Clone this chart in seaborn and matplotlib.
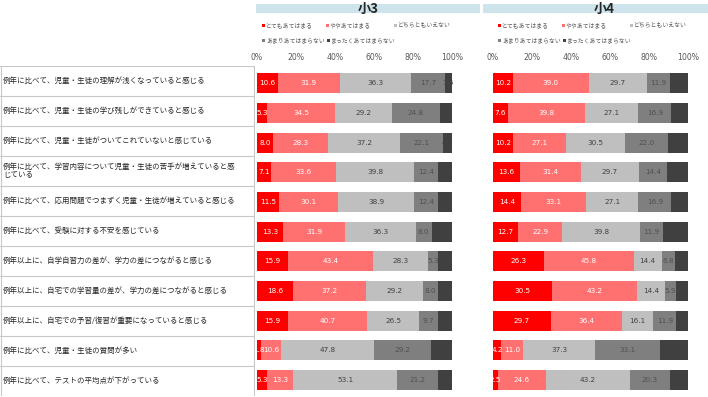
import pandas as pd
import matplotlib.pyplot as plt
import seaborn as sns
from matplotlib.patches import Rectangle

items = [
    "例年に比べて、児童・生徒の理解が浅くなっていると感じる",
    "例年に比べて、児童・生徒の学び残しができていると感じる",
    "例年に比べて、児童・生徒がついてこれていないと感じている",
    "例年に比べて、学習内容について児童・生徒の苦手が増えていると感\nじている",
    "例年に比べて、応用問題でつまずく児童・生徒が増えていると感じる",
    "例年に比べて、受験に対する不安を感じている",
    "例年以上に、自学自習力の差が、学力の差につながると感じる",
    "例年以上に、自宅での学習量の差が、学力の差につながると感じる",
    "例年以上に、自宅での予習/復習が重要になっていると感じる",
    "例年に比べて、児童・生徒の質問が多い",
    "例年に比べて、テストの平均点が下がっている",
]
answers = ["とてもあてはまる", "ややあてはまる", "どちらともいえない",
           "あまりあてはまらない", "まったくあてはまらない"]
colors = ["#ff0000", "#ff7171", "#bfbfbf", "#7f7f7f", "#404040"]
text_colors = ["white", "white", "#404040", "#505050", "#404040"]

# 小3
g3_very = [10.6, 5.3, 8.0, 7.1, 11.5, 13.3, 15.9, 18.6, 15.9, 1.8, 5.3]
g3_some = [31.9, 34.5, 28.3, 33.6, 30.1, 31.9, 43.4, 37.2, 40.7, 10.6, 13.3]
g3_neither = [36.3, 29.2, 37.2, 39.8, 38.9, 36.3, 28.3, 29.2, 26.5, 47.8, 53.1]
g3_little = [17.7, 24.8, 22.1, 12.4, 12.4, 8.0, 5.3, 8.0, 9.7, 29.2, 21.2]
g3_none = [3.5, 6.2, 4.4, 7.1, 7.1, 10.5, 7.1, 7.0, 7.2, 10.6, 7.1]

# 小4
g4_very = [10.2, 7.6, 10.2, 13.6, 14.4, 12.7, 26.3, 30.5, 29.7, 4.2, 2.5]
g4_some = [39.0, 39.8, 27.1, 31.4, 33.1, 22.9, 45.8, 43.2, 36.4, 11.0, 24.6]
g4_neither = [29.7, 27.1, 30.5, 29.7, 27.1, 39.8, 14.4, 14.4, 16.1, 37.3, 43.2]
g4_little = [11.9, 16.9, 22.0, 14.4, 16.9, 11.9, 6.8, 5.9, 11.9, 33.1, 20.3]
g4_none = [9.2, 8.6, 10.2, 10.9, 8.5, 12.7, 6.7, 6.0, 5.9, 14.4, 9.4]

sns.set_theme(style="white")
plt.rcParams['font.family'] = ['Noto Sans CJK JP', 'DejaVu Sans']

W, H = 708, 397
fig = plt.figure(figsize=(W / 100, H / 100), dpi=100)


def px_rect(x0, y0, x1, y1):
    return [x0 / W, 1 - y1 / H, (x1 - x0) / W, (y1 - y0) / H]


# label table on the left
tab = fig.add_axes(px_rect(0, 66, 255, 396))
tab.set_xlim(0, 1)
tab.set_ylim(len(items), 0)
tab.axis('off')
for i in range(len(items) + 1):
    tab.axhline(i, color="#c8c8c8", lw=0.8)
tab.axvline(0.002, color="#c8c8c8", lw=0.8)
tab.axvline(0.998, color="#c8c8c8", lw=0.8)
for i, lab in enumerate(items):
    tab.text(0.012, i + 0.5, lab, va='center', ha='left', fontsize=5.4,
             color="#262626", linespacing=1.05)


def draw_panel(x0, title, series, band):
    ax = fig.add_axes(px_rect(x0, 68.5, x0 + 195, 394.8))
    df = pd.DataFrame(dict(zip(answers, series)))
    df["item"] = items
    cum = df[answers].cumsum(axis=1)
    # stacked bars: draw cumulative totals from the back
    for k in range(len(answers) - 1, -1, -1):
        sns.barplot(x=cum[answers[k]], y=df["item"], color=colors[k],
                    orient='h', width=0.67, order=items, ax=ax,
                    saturation=1, edgecolor='none', linewidth=0)
    for i in range(len(items)):
        for k in range(len(answers)):
            v = df[answers[k]][i]
            ax.text(cum[answers[k]][i] - v / 2, i, f"{v:.1f}", ha='center',
                    va='center', fontsize=5.2, color=text_colors[k],
                    family='DejaVu Sans')
    ax.set_xlim(0, 100)
    ax.set_xticks(range(0, 101, 20))
    ax.set_xticklabels([f"{t}%" for t in range(0, 101, 20)])
    ax.xaxis.tick_top()
    ax.tick_params(axis='x', length=0, pad=5, labelsize=5.6,
                   labelcolor="#595959")
    for lbl in ax.get_xticklabels():
        lbl.set_family('DejaVu Sans')
    ax.set_yticks([])
    ax.set_xlabel("")
    ax.set_ylabel("")
    for s in ax.spines.values():
        s.set_visible(False)

    # title band
    bx0, bx1 = band
    fig.add_artist(Rectangle((bx0 / W, 1 - 12.7 / H), (bx1 - bx0) / W, 8.7 / H,
                             transform=fig.transFigure, color="#cde4ec", lw=0))
    fig.text((x0 + 111) / W, 1 - 8.5 / H, title, ha='center', va='center',
             fontsize=9.5, fontweight='bold', color="#262626")

    # legend
    spots = [(5, 25.7), (69, 25.7), (137, 25.7), (5, 40.7), (70, 40.7)]
    for k, (dx, yy) in enumerate(spots):
        fig.add_artist(Rectangle(((x0 + dx) / W, 1 - (yy + 1.6) / H), 3.2 / W,
                                 3.2 / H, transform=fig.transFigure,
                                 color=colors[k], lw=0))
        fig.text((x0 + dx + 4) / W, 1 - yy / H, answers[k], ha='left',
                 va='center', fontsize=4.2, color="#595959")
    return ax


draw_panel(257, "小3", [g3_very, g3_some, g3_neither, g3_little, g3_none],
           (256, 480))
draw_panel(493, "小4", [g4_very, g4_some, g4_neither, g4_little, g4_none],
           (483, 708))

plt.savefig("out.png", dpi=100)
